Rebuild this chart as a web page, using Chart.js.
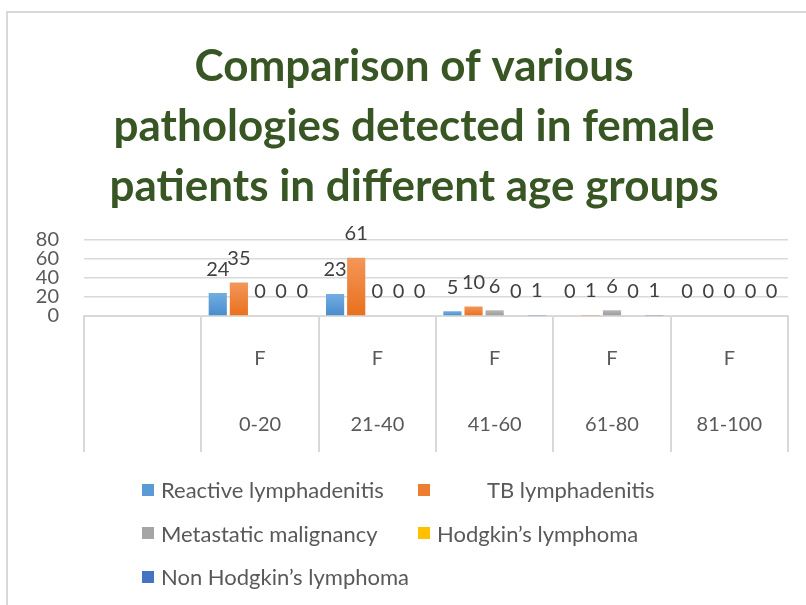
<!DOCTYPE html>
<html>
<head>
<meta charset="utf-8">
<script src="https://cdn.jsdelivr.net/npm/chart.js@4.4.1/dist/chart.umd.min.js"></script>
<style>
  html, body { margin: 0; padding: 0; background: #fff; width: 806px; height: 605px; overflow: hidden; }
  #frame { position: absolute; left: 6px; top: 11px; width: 900px; height: 700px; border: 2px solid #d9d9d9; box-sizing: border-box; }
  #wrap { position: absolute; left: 0; top: 0; width: 822px; height: 605px; }
  #legend { position: absolute; left: 142px; top: 468px; display: grid; grid-template-columns: 276px 276px; font: 22px Lato, sans-serif; color: #595959; }
  .item { display: flex; align-items: center; height: 43.5px; white-space: pre; }
  .box { width: 12px; height: 12px; margin-right: 7px; flex: none; }
</style>
</head>
<body>
<div id="frame"></div>
<div id="wrap"><canvas id="chart" width="822" height="605"></canvas></div>
<div id="legend"></div>
<script>
const titleLines = [
  "Comparison of various",
  "pathologies detected in female",
  "patients in different age groups",
];
const ageGroups = ["", "0-20", "21-40", "41-60", "61-80", "81-100"];
const sexRow = ["", "F", "F", "F", "F", "F"];

const reactive = [null, 24, 23, 5, 0, 0];
const tb = [null, 35, 61, 10, 1, 0];
const metastatic = [null, 0, 0, 6, 6, 0];
const hodgkin = [null, 0, 0, 0, 0, 0];
const nonHodgkin = [null, 0, 0, 1, 1, 0];

const seriesNames = [
  "Reactive lymphadenitis",
  "         TB lymphadenitis",
  "Metastatic malignancy",
  "Hodgkin\u2019s lymphoma",
  "Non Hodgkin\u2019s lymphoma",
];
const seriesColors = ["#5b9bd5", "#ed7d31", "#a5a5a5", "#ffc000", "#4472c4"];
const seriesTop = ["#71aee2", "#f4965a", "#b8b8b8", "#ffcf40", "#5b87d2"];
const seriesBottom = ["#4a8bcb", "#e8701c", "#989898", "#f2b400", "#3a64b4"];
const seriesData = [reactive, tb, metastatic, hodgkin, nonHodgkin];

const yMax = 80;
const yStep = 20;

const textGray = "#595959";
const lineGray = "#d9d9d9";

// lighter at the top of each bar, darker at its base
function barGradient(top, bottom) {
  return (ctx) => {
    const chart = ctx.chart;
    const yScale = chart.scales.y;
    if (!yScale || ctx.type !== "data" || ctx.raw == null) return bottom;
    const yTop = yScale.getPixelForValue(ctx.raw);
    const yBase = yScale.getPixelForValue(0);
    if (!isFinite(yTop) || yBase - yTop < 1) return bottom;
    const g = chart.ctx.createLinearGradient(0, yTop, 0, yBase);
    g.addColorStop(0, top);
    g.addColorStop(1, bottom);
    return g;
  };
}

const valueLabels = {
  id: "valueLabels",
  afterDatasetsDraw(chart) {
    const ctx = chart.ctx;
    ctx.save();
    ctx.font = "20px Lato";
    ctx.fillStyle = "#404040";
    ctx.textAlign = "center";
    ctx.textBaseline = "middle";
    chart.data.datasets.forEach((ds, i) => {
      chart.getDatasetMeta(i).data.forEach((bar, j) => {
        const v = ds.data[j];
        if (v === null) return;
        ctx.fillText(String(v), bar.x, bar.y - 24);
      });
    });
    ctx.restore();
  },
};

const datasets = seriesNames.map((name, i) => ({
  label: name.trim(),
  data: seriesData[i],
  backgroundColor: barGradient(seriesTop[i], seriesBottom[i]),
  categoryPercentage: 0.9,
  barPercentage: 0.86,
}));

new Chart(document.getElementById("chart"), {
  type: "bar",
  data: {
    labels: ageGroups.map((age, i) => [sexRow[i], age]),
    datasets,
  },
  options: {
    responsive: false,
    animation: false,
    layout: { padding: { left: 6, right: 0, top: 0, bottom: 153 } },
    plugins: {
      legend: { display: false },
      tooltip: { enabled: false },
      title: {
        display: true,
        text: titleLines,
        color: "#375623",
        font: { family: "Lato", size: 44, weight: "bold", lineHeight: 1.36 },
        padding: { top: 37, bottom: 23 },
      },
    },
    scales: {
      x: {
        offset: true,
        grid: {
          offset: true,
          drawOnChartArea: false,
          drawTicks: true,
          tickLength: 136,
          color: lineGray,
          lineWidth: 2,
        },
        border: { display: true, color: lineGray, width: 2 },
        ticks: {
          font: { family: "Lato", size: 20, lineHeight: 3.3 },
          color: textGray,
          padding: -126,
          maxRotation: 0,
          autoSkip: false,
        },
        afterFit(scale) {
          scale.height = 136;
        },
      },
      y: {
        min: 0,
        max: yMax,
        ticks: {
          stepSize: yStep,
          autoSkip: false,
          font: { family: "Lato", size: 20 },
          color: textGray,
          padding: 25,
        },
        grid: { color: lineGray, lineWidth: 1.5, drawTicks: false },
        border: { display: false },
        afterFit(scale) {
          scale.width = 78;
        },
      },
      // empty right-hand gutter, keeps the title centred on the whole frame
      gutter: {
        type: "linear",
        position: "right",
        ticks: { display: false },
        grid: { display: false },
        border: { display: false },
        afterFit(scale) {
          scale.width = 34;
        },
      },
    },
  },
  plugins: [valueLabels],
});

const legend = document.getElementById("legend");
seriesNames.forEach((name, i) => {
  const item = document.createElement("div");
  item.className = "item";
  const box = document.createElement("span");
  box.className = "box";
  box.style.background = seriesColors[i];
  const label = document.createElement("span");
  label.textContent = name;
  item.appendChild(box);
  item.appendChild(label);
  legend.appendChild(item);
});
</script>
</body>
</html>
